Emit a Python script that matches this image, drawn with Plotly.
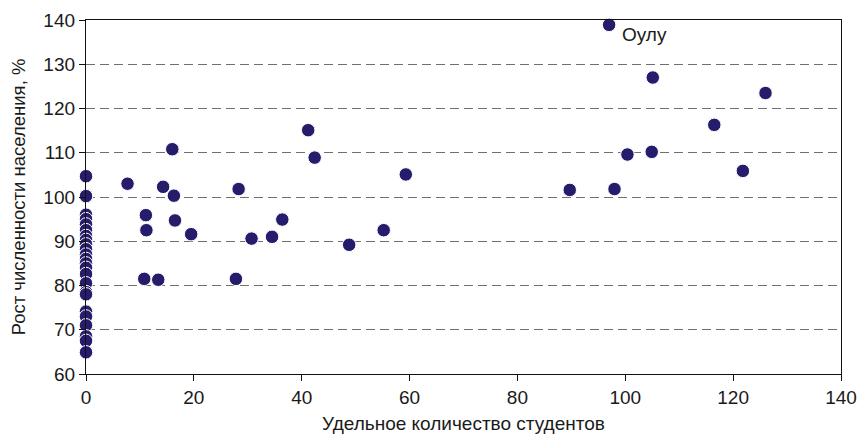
import plotly.graph_objects as go

# Удельное количество студентов (x) and population growth, % (y)
x_zero_y = [104.7, 100.2, 96.0, 95.0, 93.8, 92.5, 91.2, 90.3, 89.3, 88.2,
            87.0, 86.0, 85.0, 84.0, 82.6, 80.5, 78.5, 78.0, 74.1, 73.0,
            71.0, 68.5, 67.5, 64.9]
x_zero_x = [0.0] * len(x_zero_y)

other_x = [97.0, 105.1, 126.0, 116.5, 100.4, 104.9, 121.8, 89.7, 98.0,
           41.2, 42.4, 59.3, 28.3, 36.4, 30.7, 34.5, 48.8, 55.2, 27.8,
           16.0, 7.7, 14.3, 16.3, 11.1, 16.5, 11.2, 19.5, 10.8, 13.4]
other_y = [138.9, 127.0, 123.5, 116.3, 109.6, 110.2, 105.9, 101.6, 101.8,
           115.1, 108.9, 105.1, 101.8, 94.9, 90.6, 91.0, 89.2, 92.5, 81.5,
           110.8, 103.0, 102.3, 100.3, 95.9, 94.7, 92.5, 91.6, 81.5, 81.3]

xs = x_zero_x + other_x
ys = x_zero_y + other_y

label_text = "Оулу"
label_x, label_y = 97.0, 138.9

x_ticks = [0, 20, 40, 60, 80, 100, 120, 140]
y_ticks = [60, 70, 80, 90, 100, 110, 120, 130, 140]

marker_color = "#261c6c"
text_color = "#1a1a1a"
font_family = "Liberation Sans, Arial, sans-serif"

fig = go.Figure()
fig.add_trace(go.Scatter(
    x=xs, y=ys, mode="markers",
    marker=dict(symbol="circle", size=13.5, color=marker_color,
                line=dict(color="white", width=1)),
    cliponaxis=False, showlegend=False, hoverinfo="skip",
))

fig.add_annotation(x=label_x, y=label_y, text=label_text, showarrow=False,
                   xanchor="left", yanchor="middle", xshift=11, yshift=-10,
                   font=dict(size=19, color=text_color, family=font_family))

axis_common = dict(showline=True, linecolor="#111111", linewidth=1.3,
                   mirror=True, ticks="outside", ticklen=6, tickwidth=1.3,
                   tickcolor="#111111", zeroline=False, automargin=False,
                   tickfont=dict(size=19, color=text_color, family=font_family))

fig.update_xaxes(range=[0, 140], tickvals=x_ticks, showgrid=False,
                 title=dict(text="Удельное количество студентов",
                            font=dict(size=19, color=text_color, family=font_family),
                            standoff=9),
                 **axis_common)
fig.update_yaxes(range=[60, 140], tickvals=y_ticks, showgrid=True,
                 gridcolor="#707070", gridwidth=1.3, griddash="9px,5px",
                 title=dict(text="Рост численности населения, %",
                            font=dict(size=18.5, color=text_color, family=font_family),
                            standoff=12),
                 **axis_common)

fig.update_layout(width=858, height=435,
                  margin=dict(l=86, r=17, t=20, b=61),
                  plot_bgcolor="white", paper_bgcolor="white",
                  font=dict(family=font_family), hovermode=False)

# remove the page's default body margin so the figure fills the window exactly
fig.write_html("out.html",
               config={"displayModeBar": False},
               post_script="document.body.style.margin='0';"
                           "document.body.style.overflow='hidden';")
